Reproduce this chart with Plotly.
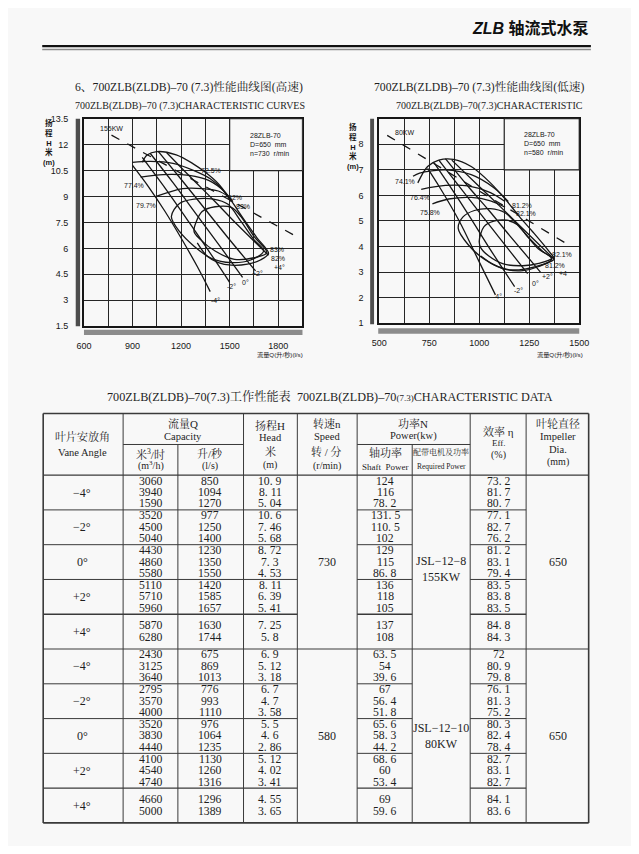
import plotly.graph_objects as go

# ---------------- page geometry helpers ----------------
# The page body keeps an 8px margin, so the figure is 16px smaller than the window
# and every reference pixel position p is mapped with an 8px offset.
OFF = 8
FW, FH = 639 - 2 * OFF, 854 - 2 * OFF
def X(p):
    return (p - OFF) / FW
def Y(p):
    return 1 - (p - OFF) / FH

INK = "#161616"
BG = "#f8f8f8"
SERIF = "Liberation Serif, Noto Serif CJK SC, Noto Sans CJK SC"
SANS = "Liberation Sans, Noto Sans CJK SC"

# ---------------- chart 1 : 730 r/min (high speed) ----------------
hs_x_ticks = [600, 750, 900, 1050, 1200, 1350, 1500, 1650, 1800, 1950]
hs_x_text = ["600", " ", "900", " ", "1200", " ", "1500", " ", "1800", " "]
hs_y_ticks = [1.5, 3, 4.5, 6, 7.5, 9, 10.5, 12, 13.5]
hs_y_text = ["1.5", "3", "4.5", "6", "7.5", "9", "10.5", "12", "13.5"]

hs_m4_q = [900, 1000, 1100, 1200, 1300, 1380]
hs_m4_h = [10.8, 9.55, 8.15, 6.6, 4.95, 3.5]
hs_m2_q = [960, 1100, 1250, 1400, 1500]
hs_m2_h = [11.26, 9.5, 7.5, 5.45, 4.04]
hs_0_q = [1010, 1150, 1300, 1450, 1580]
hs_0_h = [11.49, 9.8, 7.9, 6.0, 4.33]
hs_p2_q = [1060, 1200, 1350, 1500, 1660]
hs_p2_h = [11.6, 10.0, 8.25, 6.5, 4.7]
hs_p4_q = [1110, 1250, 1400, 1550, 1740]
hs_p4_h = [11.55, 10.2, 8.8, 7.35, 5.6]

hs_e725_q = [960, 990, 1050, 1170, 1270, 1350, 1430, 1500, 1590, 1670, 1740, 1690, 1610, 1510, 1430, 1360, 1300]
hs_e725_h = [10.98, 11.4, 11.6, 11.41, 10.92, 10.4, 9.74, 8.89, 7.65, 6.6, 5.71, 5.33, 5.09, 5.03, 5.18, 5.56, 6.32]
hs_e774_q = [900, 1010, 1150, 1280, 1380, 1450, 1510]
hs_e774_h = [10.98, 11.03, 10.92, 10.5, 10.03, 9.46, 8.7]
hs_e797a_q = [950, 1090, 1250, 1370, 1470, 1520]
hs_e797a_h = [10.12, 10.27, 10.22, 9.93, 9.27, 8.7]
hs_e797b_q = [1050, 1210, 1330, 1430, 1490]
hs_e797b_h = [9.02, 9.46, 9.46, 9.32, 9.02]
hs_e82_q = [1140, 1190, 1280, 1400, 1490, 1570, 1650, 1710, 1630, 1510, 1390, 1280, 1190, 1140]
hs_e82_h = [7.84, 8.6, 8.85, 8.85, 8.55, 7.56, 6.51, 5.85, 5.33, 5.18, 5.41, 6.13, 6.98, 7.84]
hs_e83_q = [1280, 1330, 1410, 1510, 1570, 1650, 1730, 1650, 1530, 1410, 1320, 1280]
hs_e83_h = [6.98, 8.13, 8.41, 8.37, 7.84, 6.7, 5.75, 5.46, 5.37, 5.85, 6.51, 6.98]
hs_power_q = [770, 1930]
hs_power_h = [12.55, 6.6]

hs_labels = ["155KW", "72.5%", "77.4%", "79.7%", "82%", "83%", "83%", "82%", "+4°", "+2°", "0°", "-2°", "-4°"]
hs_label_q = [770, 1385, 910, 985, 1535, 1585, 1790, 1800, 1810, 1672, 1600, 1510, 1410]
hs_label_h = [12.95, 10.5, 9.65, 8.5, 8.92, 8.41, 5.95, 5.4, 4.9, 4.55, 4.05, 3.8, 3.0]

# ---------------- chart 2 : 580 r/min (low speed) ----------------
ls_x_ticks = [500, 625, 750, 875, 1000, 1125, 1250, 1375, 1500]
ls_x_text = ["500", " ", "750", " ", "1000", " ", "1250", " ", "1500"]
ls_y_ticks = [1, 2, 3, 4, 5, 6, 7, 8, 9]
ls_y_text = ["1", "2", "3", "4", "5", "6", "7", "8", " "]

ls_m4_q = [742, 800, 900, 1000, 1081]
ls_m4_h = [7.06, 6.35, 5.0, 3.4, 2.11]
ls_m2_q = [774, 850, 950, 1050, 1177]
ls_m2_h = [7.28, 6.4, 5.2, 3.95, 2.43]
ls_0_q = [798, 900, 1000, 1100, 1242]
ls_0_h = [7.38, 6.35, 5.35, 4.35, 2.94]
ls_p2_q = [831, 950, 1050, 1150, 1306]
ls_p2_h = [7.44, 6.3, 5.4, 4.45, 3.0]
ls_p4_q = [863, 1000, 1100, 1250, 1374]
ls_p4_h = [7.38, 6.35, 5.6, 4.45, 3.51]

ls_eout_q = [693, 742, 798, 871, 960, 1056, 1137, 1202, 1266, 1347, 1374, 1315, 1234, 1153, 1073, 1008]
ls_eout_h = [6.49, 7.13, 7.38, 7.41, 7.13, 6.49, 5.79, 5.16, 4.59, 3.83, 3.51, 3.29, 3.13, 3.09, 3.29, 3.63]
ls_e741_q = [669, 702, 831, 960, 1073, 1145]
ls_e741_h = [6.75, 6.87, 7.0, 6.81, 6.3, 5.76]
ls_e764_q = [710, 831, 944, 1056, 1129]
ls_e764_h = [6.24, 6.39, 6.37, 6.11, 5.76]
ls_e758_q = [766, 847, 960, 1056, 1129]
ls_e758_h = [5.67, 5.86, 5.92, 5.79, 5.54]
ls_e812_q = [895, 919, 976, 1056, 1129, 1185, 1250, 1315, 1363, 1298, 1218, 1121, 1024, 944, 895]
ls_e812_h = [4.71, 5.16, 5.41, 5.48, 5.32, 4.9, 4.33, 3.83, 3.51, 3.22, 3.06, 3.13, 3.51, 4.08, 4.71]
ls_e821_q = [1000, 1024, 1073, 1137, 1194, 1234, 1298, 1363, 1298, 1218, 1121, 1048, 1008, 1000]
ls_e821_h = [4.21, 4.78, 4.99, 5.03, 4.84, 4.46, 3.89, 3.55, 3.34, 3.25, 3.32, 3.63, 3.95, 4.21]
ls_power_q = [540, 1445]
ls_power_h = [8.35, 4.07]

ls_labels = ["80KW", "74.1%", "76.4%", "75.8%", "81.2%", "82.1%", "82.1%", "81.2%", "+4", "+2°", "0°", "-2°", "-4°"]
ls_label_q = [628, 629, 702, 752, 1212, 1236, 1412, 1380, 1420, 1339, 1282, 1194, 1089]
ls_label_h = [8.45, 6.56, 5.92, 5.32, 5.6, 5.29, 3.7, 3.25, 2.94, 2.81, 2.56, 2.3, 2.05]

# ---------------- table data ----------------
vane_angles = ["\u22124°", "\u22122°", "0°", "+2°", "+4°"]
speeds = ["730", "580"]
motors = ["JSL\u221212\u22128<br>155KW", "JSL\u221212\u221210<br>80KW"]
impellers = ["650", "650"]

hs_q_m3h = [[3060, 3940, 1590], [3520, 4500, 5040], [4430, 4860, 5580], [5110, 5710, 5960], [5870, 6280]]
hs_q_ls = [[850, 1094, 1270], [977, 1250, 1400], [1230, 1350, 1550], [1420, 1585, 1657], [1630, 1744]]
hs_head = [[10.9, 8.11, 5.04], [10.6, 7.46, 5.68], [8.72, 7.3, 4.53], [8.11, 6.39, 5.41], [7.25, 5.8]]
hs_shaft = [[124, 116, 78.2], [131.5, 110.5, 102], [129, 115, 86.8], [136, 118, 105], [137, 108]]
hs_eff = [[73.2, 81.7, 80.7], [77.1, 82.7, 76.2], [81.2, 83.1, 79.4], [83.5, 83.8, 83.5], [84.8, 84.3]]

ls_q_m3h = [[2430, 3125, 3640], [2795, 3570, 4000], [3520, 3830, 4440], [4100, 4540, 4740], [4660, 5000]]
ls_q_ls = [[675, 869, 1013], [776, 993, 1110], [976, 1064, 1235], [1130, 1260, 1316], [1296, 1389]]
ls_head = [[6.9, 5.12, 3.18], [6.7, 4.7, 3.58], [5.5, 4.6, 2.86], [5.12, 4.02, 3.41], [4.55, 3.65]]
ls_shaft = [[63.5, 54, 39.6], [67, 56.4, 51.8], [65.6, 58.3, 44.2], [68.6, 60, 53.4], [69, 59.6]]
ls_eff = [[72, 80.9, 79.8], [76.1, 81.3, 75.2], [80.3, 82.4, 78.4], [82.7, 83.1, 82.7], [84.1, 83.6]]

# ---------------- figure ----------------
fig = go.Figure()

def add_curve(q, h, xa, ya, dash="solid"):
    fig.add_trace(go.Scatter(x=q, y=h, mode="lines", xaxis=xa, yaxis=ya,
                             line=dict(color=INK, width=1.3, dash=dash,
                                       shape="spline", smoothing=0.9),
                             hoverinfo="skip", showlegend=False))

for q, h in [(hs_m4_q, hs_m4_h), (hs_m2_q, hs_m2_h), (hs_0_q, hs_0_h), (hs_p2_q, hs_p2_h),
             (hs_p4_q, hs_p4_h), (hs_e725_q, hs_e725_h), (hs_e774_q, hs_e774_h),
             (hs_e797a_q, hs_e797a_h), (hs_e797b_q, hs_e797b_h), (hs_e82_q, hs_e82_h),
             (hs_e83_q, hs_e83_h)]:
    add_curve(q, h, "x", "y")
add_curve(hs_power_q, hs_power_h, "x", "y", dash="dash")

for q, h in [(ls_m4_q, ls_m4_h), (ls_m2_q, ls_m2_h), (ls_0_q, ls_0_h), (ls_p2_q, ls_p2_h),
             (ls_p4_q, ls_p4_h), (ls_eout_q, ls_eout_h), (ls_e741_q, ls_e741_h),
             (ls_e764_q, ls_e764_h), (ls_e758_q, ls_e758_h), (ls_e812_q, ls_e812_h),
             (ls_e821_q, ls_e821_h)]:
    add_curve(q, h, "x2", "y2")
add_curve(ls_power_q, ls_power_h, "x2", "y2", dash="dash")

shapes = []
ann = []

def axis(domain, rng, tv, tt, anchor, standoff):
    return dict(domain=domain, range=rng, tickmode="array", tickvals=tv, ticktext=tt,
                showgrid=True, gridcolor="#262626", gridwidth=1.2, zeroline=False,
                showline=True, linecolor=INK, linewidth=1.6, mirror=True, ticks="",
                tickfont=dict(family=SANS, size=9, color=INK), anchor=anchor,
                ticklabelstandoff=standoff, fixedrange=True)

# info boxes in the upper-right corner of each chart
shapes.append(dict(type="rect", xref="x", yref="y", x0=1500, x1=1950, y0=10.5, y1=13.5,
                   fillcolor=BG, line=dict(color="#262626", width=1.2), layer="above"))
shapes.append(dict(type="rect", xref="x2", yref="y2", x0=1125, x1=1500, y0=7, y1=9,
                   fillcolor=BG, line=dict(color="#262626", width=1.2), layer="above"))

# dark scan bars next to the axes
shapes.append(dict(type="rect", xref="paper", yref="paper", x0=X(69.5), x1=X(74), y0=Y(325), y1=Y(115),
                   fillcolor="#4d4d4d", line=dict(width=0), layer="above"))
shapes.append(dict(type="rect", xref="paper", yref="paper", x0=X(78), x1=X(303), y0=Y(334), y1=Y(328.5),
                   fillcolor="#8c8c8c", line=dict(width=0), layer="above"))
shapes.append(dict(type="rect", xref="paper", yref="paper", x0=X(372.7), x1=X(376.7), y0=Y(323), y1=Y(115),
                   fillcolor="#4d4d4d", line=dict(width=0), layer="above"))
shapes.append(dict(type="rect", xref="paper", yref="paper", x0=X(381), x1=X(588), y0=Y(332.7), y1=Y(327),
                   fillcolor="#8c8c8c", line=dict(width=0), layer="above"))

def dann(t, x, y, xr, yr, size=7, **kw):
    d = dict(text=t, x=x, y=y, xref=xr, yref=yr, showarrow=False, xanchor="center", yanchor="middle",
             font=dict(family=SANS, size=size, color=INK))
    d.update(kw)
    ann.append(d)

for t, q, h in zip(hs_labels, hs_label_q, hs_label_h):
    dann(t, q, h, "x", "y")
for t, q, h in zip(ls_labels, ls_label_q, ls_label_h):
    dann(t, q, h, "x2", "y2")
dann("28ZLB-70<br>D=650  mm<br>n=730  r/min", 1615, 12.85, "x", "y", xanchor="left", yanchor="top", align="left")
dann("28ZLB-70<br>D=650  mm<br>n=580  r/min", 1215, 8.6, "x2", "y2", xanchor="left", yanchor="top", align="left")

for xc, yt in [(42, 112), (355, 116)]:
    dann("<b>扬<br>程<br>H<br>米<br>(m)</b>", X(xc), Y(yt), "paper", "paper", size=7.5, yanchor="top")
for xc in [280, 568]:
    dann("流量Q(升/秒)(l/s)", X(xc), Y(354), "paper", "paper", size=6.2)

def ptxt(s, x, y, size, fam=SERIF, xanchor="center", color="#1e1e1e"):
    ann.append(dict(text=s, x=X(x), y=Y(y), xref="paper", yref="paper", showarrow=False,
                    xanchor=xanchor, yanchor="middle", font=dict(family=fam, size=size, color=color)))

ptxt("6、700ZLB(ZLDB)\u201370 (7.3)性能曲线图(高速)", 67, 83, 11.7, xanchor="left")
ptxt("700ZLB(ZLDB)\u201370 (7.3)CHARACTERISTIC CURVES", 67, 102, 10, xanchor="left")
ptxt("700ZLB(ZLDB)\u201370 (7.3)性能曲线图(低速)", 375, 83, 11.7, xanchor="left")
ptxt("700ZLB(ZLDB)\u201370(7.3)CHARACTERISTIC", 397, 102, 10, xanchor="left")

ptxt("<b><i>ZLB</i> 轴流式水泵</b>", 600, 23, 16, fam=SANS, xanchor="right", color="#111")
shapes.append(dict(type="line", xref="paper", yref="paper", x0=X(35), x1=X(600), y0=Y(41.5), y1=Y(41.5),
                   line=dict(color="#111", width=2.2)))
shapes.append(dict(type="line", xref="paper", yref="paper", x0=X(35), x1=X(600), y0=Y(45), y1=Y(45),
                   line=dict(color="#8a8a8a", width=1.4)))

# ---------------- table ----------------
ptxt("700ZLB(ZLDB)\u201370(7.3)工作性能表  700ZLB(ZLDB)\u201370<span style='font-size:9px'>(7.3)</span>CHARACTERISTIC DATA",
     331, 396, 12.2)

cx = [36, 118.3, 174.7, 242.3, 297.7, 359.3, 416, 475.7, 533.3, 597.7]
T, SUB, HB = 413.3, 444.7, 475.7
GH = 35.2
gb = [HB + i * GH for i in range(11)]
BOT = gb[10]
TL = "#3a3a3a"

def hline(x0, x1, y, w=1.0):
    shapes.append(dict(type="line", xref="paper", yref="paper", x0=X(x0), x1=X(x1), y0=Y(y), y1=Y(y),
                       line=dict(color=TL, width=w)))

def vline(x, y0, y1, w=1.0):
    shapes.append(dict(type="line", xref="paper", yref="paper", x0=X(x), x1=X(x), y0=Y(y0), y1=Y(y1),
                       line=dict(color=TL, width=w)))

hline(cx[0], cx[9], T, 1.6)
hline(cx[0], cx[9], BOT, 1.6)
hline(cx[0], cx[9], HB, 1.1)
hline(cx[0], cx[9], gb[5], 1.1)
hline(cx[1], cx[3], SUB)
hline(cx[5], cx[7], SUB)
for i in [1, 2, 3, 4, 6, 7, 8, 9]:
    w = 1.4 if i in (4, 9) else 1.0
    hline(cx[0], cx[4], gb[i], w)
    hline(cx[5], cx[6], gb[i], w)
    hline(cx[7], cx[8], gb[i], w)
for j, x in enumerate(cx):
    if j in (2, 6):
        vline(x, SUB, BOT)
    else:
        vline(x, T, BOT, 1.6 if j in (0, 9) else 1.0)

ptxt("叶片安放角", 76, 437, 11)
ptxt("Vane Angle", 76, 453, 10.5)
ptxt("流量Q", 180, 423, 11)
ptxt("Capacity", 180, 436.5, 10.5)
ptxt("米<sup>3</sup>/时", 147, 454, 11)
ptxt("(m<sup>3</sup>/h)", 147, 466, 10)
ptxt("升/秒", 208, 454, 11)
ptxt("(l/s)", 208, 466, 10)
ptxt("扬程H", 270, 425, 11)
ptxt("Head", 270, 437.5, 10.5)
ptxt("米", 270, 451.5, 11)
ptxt("(m)", 270, 465, 10)
ptxt("转速n", 328, 423, 11)
ptxt("Speed", 328, 436.5, 10.5)
ptxt("转 / 分", 328, 452, 11)
ptxt("(r/min)", 328, 466, 10)
ptxt("功率N", 417, 423, 11)
ptxt("Power(kw)", 417, 436.5, 10.5)
ptxt("轴功率", 388, 453, 11)
ptxt("Shaft  Power", 388, 467, 9)
ptxt("配带电机及功率", 446, 452, 8)
ptxt("Required Power", 446, 467, 7.5)
ptxt("效率 η", 505, 432, 11)
ptxt("Eff.", 505, 443, 9)
ptxt("(%)", 505, 455, 10)
ptxt("叶轮直径", 566, 423, 11)
ptxt("Impeller", 566, 437, 10.5)
ptxt("Dia.", 566, 450, 10.5)
ptxt("(mm)", 566, 462, 10)

def fmt(v):
    return f"{v:g}".replace(".", ". ")

col_c = [76, 147, 208, 270, 328, 388, 446, 505, 566]
sections = [(hs_q_m3h, hs_q_ls, hs_head, hs_shaft, hs_eff), (ls_q_m3h, ls_q_ls, ls_head, ls_shaft, ls_eff)]
for s, (qm, ql, hd, sp, ef) in enumerate(sections):
    for g in range(5):
        top = gb[s * 5 + g]
        yc = top + GH / 2
        n = len(qm[g])
        ptxt(vane_angles[g], col_c[0], yc, 12)
        for k in range(n):
            yy = yc + (k - (n - 1) / 2) * 11.6
            ptxt(str(qm[g][k]), col_c[1], yy, 11.7)
            ptxt(str(ql[g][k]), col_c[2], yy, 11.7)
            ptxt(fmt(hd[g][k]), col_c[3], yy, 11.7)
            ptxt(fmt(sp[g][k]), col_c[5], yy, 11.7)
            ptxt(fmt(ef[g][k]), col_c[7], yy, 11.7)
    sc = (gb[s * 5] + gb[s * 5 + 5]) / 2
    ptxt(speeds[s], col_c[4], sc, 12)
    ptxt(impellers[s], col_c[8], sc, 12)
    ptxt(motors[s], col_c[6], sc + (7 if s == 0 else 0), 12)

fig.update_layout(
    width=FW, height=FH, margin=dict(l=0, r=0, t=0, b=0),
    paper_bgcolor=BG, plot_bgcolor=BG, showlegend=False,
    xaxis=axis([X(78), X(303)], [600, 1950], hs_x_ticks, hs_x_text, "y", 10),
    yaxis=axis([Y(325), Y(115)], [1.5, 13.5], hs_y_ticks, hs_y_text, "x", 12),
    xaxis2=axis([X(382), X(588)], [500, 1500], ls_x_ticks, ls_x_text, "y2", 10),
    yaxis2=axis([Y(322), Y(115)], [1, 9], ls_y_ticks, ls_y_text, "x2", 12),
    shapes=shapes, annotations=ann,
)

fig.write_html("out.html")
